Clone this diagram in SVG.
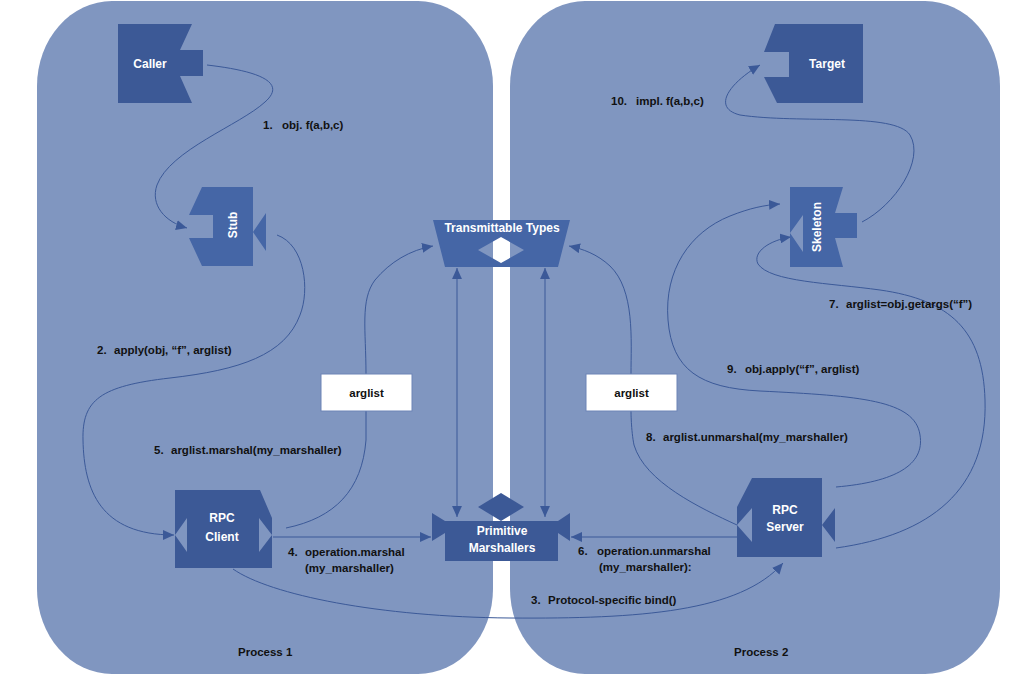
<svg xmlns="http://www.w3.org/2000/svg" width="1024" height="685" viewBox="0 0 1024 685">
<defs>
<style>
.panel{fill:#8096c0;}
.dk{fill:#3c5996;fill-rule:evenodd;}
.lt{fill:#4566a6;fill-rule:evenodd;}
.wt{fill:#ffffff;font-family:"Liberation Sans",Arial,sans-serif;font-size:12px;font-weight:bold;text-anchor:middle;}
.lb{fill:#111111;font-family:"Liberation Sans",Arial,sans-serif;font-size:11.5px;font-weight:bold;}
.pl{fill:#111111;font-family:"Liberation Sans",Arial,sans-serif;font-size:11.5px;font-weight:bold;}
.c{fill:none;stroke:#3b5998;stroke-width:1;}
.box{fill:#ffffff;stroke:#6d84b6;stroke-width:1;}
</style>
<marker id="ah" viewBox="0 0 10 9" refX="10" refY="4.5" markerWidth="11" markerHeight="10" markerUnits="userSpaceOnUse" orient="auto-start-reverse">
<path d="M0,0 L10,4.5 L0,9 Z" fill="#3b5998"/>
</marker>
</defs>
<rect width="1024" height="685" fill="#ffffff"/>
<g id="process1">
<rect class="panel" x="37" y="1" width="456" height="673" rx="75" ry="85"/>
<text class="pl" x="238" y="656">Process 1</text>
</g>
<g id="process2">
<rect class="panel" x="510" y="1" width="490" height="673" rx="75" ry="85"/>
<text class="pl" x="734" y="656">Process 2</text>
</g>
<g id="connectors">
<path class="c" marker-end="url(#ah)" d="M207,65 C250,70 290,80 265,102 C240,125 170,150 157,185 C150,205 165,222 187,228"/>
<path class="c" marker-end="url(#ah)" d="M277,235 C305,245 310,290 300,315 C285,355 240,370 170,378 C100,386 82,400 83,440 C84,490 100,535 174,535"/>
<path class="c" marker-end="url(#ah)" d="M233,569 C270,595 380,617 510,618 C640,619 740,612 783,563"/>
<path class="c" marker-end="url(#ah)" d="M273,537 L431,537"/>
<path class="c" marker-end="url(#ah)" d="M286,528 C335,518 362,490 366,440 L366,374 C366,330 360,300 375,280 C390,262 410,250 433,246"/>
<path class="c" marker-end="url(#ah)" d="M737,537 L571,537"/>
<path class="c" marker-end="url(#ah)" d="M737,525 C700,508 645,482 634,445 C631,430 631,411 631,411 L631,374 C631,340 635,290 610,266 C597,254 583,249 569,246"/>
<path class="c" marker-end="url(#ah)" d="M836,548 C930,535 988,490 985,400 C983,330 950,300 880,290 C830,283 770,282 758,264 C752,252 770,240 791,237"/>
<path class="c" marker-end="url(#ah)" d="M836,487 C895,482 925,465 920,435 C915,400 860,396 760,391 C700,388 672,370 668,320 C664,270 690,232 730,216 C750,208 765,205 780,204"/>
<path class="c" marker-end="url(#ah)" d="M862,222 C895,205 925,160 910,135 C895,112 800,124 740,115 C712,108 728,84 760,65"/>
<path class="c" marker-start="url(#ah)" marker-end="url(#ah)" d="M457,268 L457,517"/>
<path class="c" marker-start="url(#ah)" marker-end="url(#ah)" d="M545,268 L545,517"/>
</g>
<g id="labels">
<text class="lb" x="263" y="129">1.<tspan x="282">obj. f(a,b,c)</tspan></text>
<text class="lb" x="97" y="354">2.<tspan x="114">apply(obj, “f”, arglist)</tspan></text>
<text class="lb" x="531" y="604">3.<tspan x="548">Protocol-specific bind()</tspan></text>
<text class="lb" x="288" y="556">4.<tspan x="305">operation.marshal</tspan></text>
<text class="lb" x="305" y="572">(my_marshaller)</text>
<text class="lb" x="154" y="454">5.<tspan x="171">arglist.marshal(my_marshaller)</tspan></text>
<text class="lb" x="578" y="555">6.<tspan x="597">operation.unmarshal</tspan></text>
<text class="lb" x="599" y="571">(my_marshaller):</text>
<text class="lb" x="829" y="308">7.<tspan x="846">arglist=obj.getargs(“f”)</tspan></text>
<text class="lb" x="646" y="441">8.<tspan x="663">arglist.unmarshal(my_marshaller)</tspan></text>
<text class="lb" x="727" y="373">9.<tspan x="745">obj.apply(“f”, arglist)</tspan></text>
<text class="lb" x="611" y="105">10.<tspan x="636">impl. f(a,b,c)</tspan></text>
</g>
<g id="arglist1">
<rect class="box" x="321" y="374" width="91" height="37"/>
<text class="lb" x="366.5" y="397" text-anchor="middle">arglist</text>
</g>
<g id="arglist2">
<rect class="box" x="586" y="374" width="91" height="37"/>
<text class="lb" x="631.5" y="397" text-anchor="middle">arglist</text>
</g>
<g id="caller">
<path class="dk" d="M118,24 L192,24 L180,50 L203,50 L203,76 L180,76 L192,103 L118,103 Z"/>
<text class="wt" x="150" y="68">Caller</text>
</g>
<g id="stub">
<path class="lt" d="M202,187 L253,187 L253,232 L266,213 L266,251 L253,232 L253,266 L202,266 L189,238 L213,238 L213,215 L189,215 Z"/>
<text class="wt" transform="translate(237,225) rotate(-90)">Stub</text>
</g>
<g id="target">
<path class="dk" d="M775,24 L863,24 L863,103 L777,103 L764,77 L789,77 L789,52 L764,52 Z"/>
<text class="wt" x="827" y="68">Target</text>
</g>
<g id="skeleton">
<path class="lt" d="M790,187 L843,187 L835,213 L857,213 L857,238 L835,238 L843,267 L790,267 Z M790,233 L803,215 L803,252 Z"/>
<text class="wt" transform="translate(821,227) rotate(-90)">Skeleton</text>
</g>
<g id="transmittable">
<path class="lt" d="M433,220 L570,220 L558,267 L445,267 Z M501,237 L524,250 L501,263 L478,250 Z"/>
<text class="wt" x="502" y="232">Transmittable Types</text>
</g>
<g id="primitive">
<path class="dk" d="M445,521 L558,521 L570,513 L570,541 L558,533 L558,561 L445,561 L445,533 L432,541 L432,513 Z"/>
<path class="dk" d="M478,507 L501,493 L524,507 L501,521 Z"/>
<text class="wt" x="502" y="535">Primitive</text>
<text class="wt" x="502" y="552">Marshallers</text>
</g>
<g id="rpcclient">
<path class="dk" d="M175,490 L260,490 L272,518 L272,568 L175,568 Z M175,535 L187,518 L187,552 Z M272,535 L259,518 L259,552 Z"/>
<text class="wt" x="222" y="522">RPC</text>
<text class="wt" x="222" y="541">Client</text>
</g>
<g id="rpcserver">
<path class="dk" d="M752,478 L822,478 L822,525 L835,508 L835,542 L822,525 L822,557 L737,557 L737,507 Z M737,525 L752,508 L752,542 Z"/>
<text class="wt" x="785" y="514">RPC</text>
<text class="wt" x="785" y="531">Server</text>
</g>
</svg>
